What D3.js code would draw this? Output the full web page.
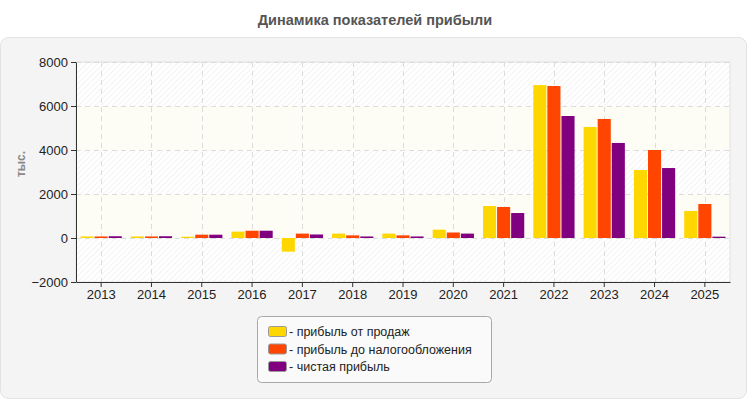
<!DOCTYPE html>
<html>
<head>
<meta charset="utf-8">
<script src="https://cdn.jsdelivr.net/npm/d3@7"></script>
<style>
  body { margin: 0; background: #fff; }
  svg { display: block; font-family: Arial, "Liberation Sans", sans-serif; }
</style>
</head>
<body>
<div id="chart"></div>
<script>
const years = ['2013', '2014', '2015', '2016', '2017', '2018', '2019', '2020', '2021', '2022', '2023', '2024', '2025'];
const salesProfit = [70, 70, 60, 290, -620, 200, 200, 380, 1455, 6950, 5045, 3090, 1230];
const preTaxProfit = [70, 70, 150, 330, 200, 120, 120, 250, 1410, 6910, 5410, 4000, 1545];
const netProfit = [80, 80, 150, 330, 160, 70, 70, 200, 1135, 5545, 4320, 3180, 60];
const seriesNames = ['- прибыль от продаж', '- прибыль до налогообложения', '- чистая прибыль'];
const seriesColors = ['#ffd700', '#ff4500', '#800080'];
const yTicks = [-2000, 0, 2000, 4000, 6000, 8000];

const W = 750, H = 400;
const margin = { top: 62, right: 20, bottom: 118, left: 76 };
const plotW = W - margin.left - margin.right;
const plotH = H - margin.top - margin.bottom;

const series = [salesProfit, preTaxProfit, netProfit];

const svg = d3.select('#chart').append('svg')
    .attr('width', W)
    .attr('height', H);

const defs = svg.append('defs');
const hatch = defs.append('pattern')
    .attr('id', 'hatch')
    .attr('patternUnits', 'userSpaceOnUse')
    .attr('width', 4)
    .attr('height', 4)
    .attr('patternTransform', 'rotate(45)');
hatch.append('rect').attr('width', 4).attr('height', 4).attr('fill', '#ffffff');
hatch.append('line')
    .attr('x1', 0).attr('y1', 0).attr('x2', 0).attr('y2', 4)
    .attr('stroke', '#ececec').attr('stroke-width', 1.2);

// outer panel
svg.append('rect')
    .attr('x', 0.5).attr('y', 37.5)
    .attr('width', 746).attr('height', 361)
    .attr('rx', 8)
    .attr('fill', '#f4f4f4')
    .attr('stroke', '#e2e2e2');

svg.append('text')
    .attr('x', W / 2).attr('y', 25)
    .attr('text-anchor', 'middle')
    .attr('font-size', 14.5)
    .attr('font-weight', 'bold')
    .attr('fill', '#555')
    .text('Динамика показателей прибыли');

const g = svg.append('g')
    .attr('transform', `translate(${margin.left},${margin.top})`);

const x = d3.scaleBand()
    .domain(years)
    .range([0, plotW])
    .paddingInner(0.18)
    .paddingOuter(0.09);

const xSub = d3.scaleBand()
    .domain(d3.range(series.length))
    .range([0, x.bandwidth()])
    .paddingInner(0.07);

const y = d3.scaleLinear()
    .domain([-2000, 8000])
    .range([plotH, 0]);

// background bands: hatched and cream alternating
const bands = d3.pairs(yTicks).reverse();
g.append('g').selectAll('rect')
    .data(bands)
    .join('rect')
    .attr('x', 0)
    .attr('width', plotW)
    .attr('y', d => y(d[1]))
    .attr('height', d => y(d[0]) - y(d[1]))
    .attr('fill', (d, i) => i % 2 === 0 ? 'url(#hatch)' : '#fdfdf6');

// plot frame (light)
g.append('rect')
    .attr('width', plotW).attr('height', plotH)
    .attr('fill', 'none')
    .attr('stroke', '#e0e0e0');

// grid lines
g.append('g').selectAll('line')
    .data(yTicks)
    .join('line')
    .attr('x1', 0).attr('x2', plotW)
    .attr('y1', d => y(d) + 0.5).attr('y2', d => y(d) + 0.5)
    .attr('stroke', '#dcdcdc')
    .attr('stroke-dasharray', '5,4');

g.append('g').selectAll('line')
    .data(years)
    .join('line')
    .attr('x1', d => Math.round(x(d) + x.bandwidth() / 2) + 0.5)
    .attr('x2', d => Math.round(x(d) + x.bandwidth() / 2) + 0.5)
    .attr('y1', 0).attr('y2', plotH)
    .attr('stroke', '#dcdcdc')
    .attr('stroke-dasharray', '5,4');

// bars
const groups = g.append('g').selectAll('g')
    .data(years)
    .join('g')
    .attr('transform', d => `translate(${x(d)},0)`);

groups.selectAll('rect')
    .data((d, i) => series.map((s, k) => ({ k, v: s[i] })))
    .join('rect')
    .attr('x', d => xSub(d.k))
    .attr('width', xSub.bandwidth())
    .attr('y', d => y(Math.max(0, d.v)))
    .attr('height', d => Math.abs(y(d.v) - y(0)))
    .attr('fill', d => seriesColors[d.k]);

// axes
const yAxis = g.append('g')
    .call(d3.axisLeft(y).tickValues(yTicks).tickFormat(d3.format('d')).tickSize(5).tickSizeOuter(0));
const xAxis = g.append('g')
    .attr('transform', `translate(0,${plotH})`)
    .call(d3.axisBottom(x).tickSize(5).tickSizeOuter(0));

[yAxis, xAxis].forEach(a => {
    a.select('.domain').attr('stroke', '#333');
    a.selectAll('.tick line').attr('stroke', '#333');
    a.selectAll('.tick text')
        .attr('font-size', 13)
        .attr('fill', '#222')
        .attr('font-family', 'Arial, "Liberation Sans", sans-serif');
});
yAxis.selectAll('.tick text').attr('x', -8);
xAxis.selectAll('.tick text').attr('y', 8);

svg.append('text')
    .attr('transform', `translate(25,${margin.top + plotH / 2 - 8}) rotate(-90)`)
    .attr('text-anchor', 'middle')
    .attr('font-size', 12)
    .attr('font-weight', 'bold')
    .attr('fill', '#888')
    .text('тыс.');

// legend
const legend = svg.append('g').attr('transform', 'translate(257,316)');
legend.append('rect')
    .attr('x', 0.5).attr('y', 0.5)
    .attr('width', 234).attr('height', 66)
    .attr('rx', 4)
    .attr('fill', '#fafafa')
    .attr('stroke', '#a8a8a8');

const items = legend.selectAll('g.item')
    .data(seriesNames)
    .join('g')
    .attr('class', 'item')
    .attr('transform', (d, i) => `translate(11,${10 + i * 17.5})`);

items.append('rect')
    .attr('x', 0.5).attr('y', 0.5)
    .attr('width', 18).attr('height', 10)
    .attr('rx', 2)
    .attr('fill', (d, i) => seriesColors[i])
    .attr('stroke', '#999');

items.append('text')
    .attr('x', 21).attr('y', 10)
    .attr('font-size', 12.5)
    .attr('fill', '#222')
    .text(d => d);
</script>
</body>
</html>
